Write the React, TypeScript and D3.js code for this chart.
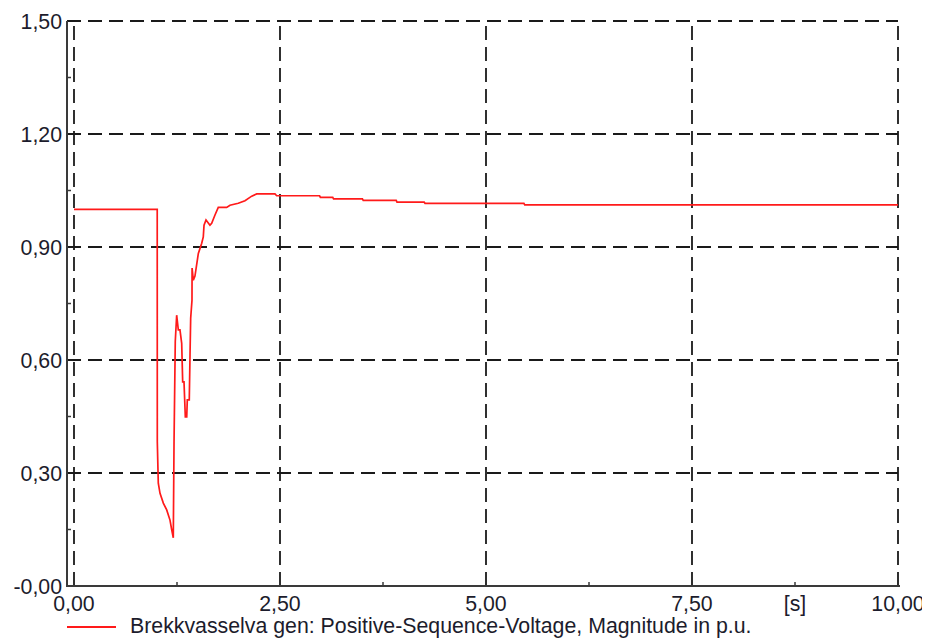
import React from "react";
import * as d3 from "d3";

const times = [
  0, 1.01, 1.011, 1.023, 1.044, 1.084, 1.125, 1.165, 1.186, 1.205, 1.214, 1.229, 1.246, 1.266, 1.286,
  1.307, 1.319, 1.335, 1.351, 1.368, 1.375, 1.399, 1.408, 1.416, 1.432, 1.433, 1.448, 1.468, 1.509,
  1.55, 1.569, 1.578, 1.602, 1.65, 1.671, 1.711, 1.751, 1.853, 1.893, 1.994, 2.075, 2.157, 2.217,
  2.439, 2.46, 2.98, 2.99, 3.14, 3.15, 3.5, 3.51, 3.91, 3.92, 4.25, 4.26, 5.46, 5.47, 10,
];
const values = [
  1.0, 1.0, 0.383, 0.273, 0.246, 0.22, 0.202, 0.175, 0.149, 0.128, 0.383, 0.649, 0.719, 0.68, 0.68,
  0.644, 0.542, 0.542, 0.449, 0.449, 0.494, 0.494, 0.613, 0.711, 0.759, 0.844, 0.812, 0.823, 0.883,
  0.91, 0.927, 0.958, 0.972, 0.958, 0.963, 0.985, 1.005, 1.005, 1.011, 1.016, 1.023, 1.035, 1.041,
  1.041, 1.036, 1.036, 1.032, 1.032, 1.028, 1.028, 1.024, 1.024, 1.019, 1.019, 1.016, 1.016, 1.012, 1.012,
];
const yTicks = [0, 0.3, 0.6, 0.9, 1.2, 1.5];
const yTickLabels = ["-0,00", "0,30", "0,60", "0,90", "1,20", "1,50"];
const xTicks = [0, 2.5, 5, 7.5, 10];
const xTickLabels = ["0,00", "2,50", "5,00", "7,50", "10,00"];
const xUnit = "[s]";
const legendLabel = "Brekkvasselva gen: Positive-Sequence-Voltage, Magnitude in p.u.";

export default function App() {
  const W = 929, H = 641;
  const axisX = 67;
  const x = d3.scaleLinear().domain([0, 10]).range([74, 898]);
  const y = d3.scaleLinear().domain([0, 1.5]).range([586, 21]);
  const line = d3
    .line<number>()
    .x((_, i) => x(times[i]))
    .y((d) => y(d));
  const pathD = line(values) || "";
  const font = "'Liberation Sans', Arial, sans-serif";
  const fs = 21.3;
  const gridColor = "#1a1a1a";
  const axisColor = "#3a3a3a";
  const textColor = "#1c1c2c";
  const yMinor = yTicks.slice(0, -1).map((t, i) => (t + yTicks[i + 1]) / 2);
  const xMinor = xTicks.slice(0, -1).map((t, i) => (t + xTicks[i + 1]) / 2);

  return (
    <svg
      width={W}
      height={H}
      style={{ position: "absolute", left: 0, top: 0, background: "#fff" }}
      fontFamily={font}
    >
      <defs>
        <clipPath id="clipAll">
          <rect x={0} y={0} width={922} height={H} />
        </clipPath>
      </defs>
      <rect x={0} y={0} width={W} height={H} fill="#fff" />
      <g clipPath="url(#clipAll)">
        {yTicks.map((t) => (
          <line
            key={"hg" + t}
            x1={axisX}
            x2={x(10)}
            y1={y(t)}
            y2={y(t)}
            stroke={gridColor}
            strokeWidth={1.8}
            strokeDasharray="14,7"
          />
        ))}
        {xTicks.map((t) => (
          <line
            key={"vg" + t}
            x1={x(t)}
            x2={x(t)}
            y1={y(0)}
            y2={y(1.5)}
            stroke={gridColor}
            strokeWidth={1.8}
            strokeDasharray="14,7"
          />
        ))}
        <line x1={axisX} x2={axisX} y1={y(1.5)} y2={y(0) + 1} stroke={axisColor} strokeWidth={2} />
        <line x1={axisX} x2={x(10) + 2} y1={y(0)} y2={y(0)} stroke={axisColor} strokeWidth={2} />
        {yMinor.map((t) => (
          <line key={"ym" + t} x1={axisX} x2={axisX + 4} y1={y(t)} y2={y(t)} stroke={axisColor} strokeWidth={1.5} />
        ))}
        {xMinor.map((t) => (
          <line key={"xm" + t} x1={x(t)} x2={x(t)} y1={y(0)} y2={y(0) - 4} stroke={axisColor} strokeWidth={1.5} />
        ))}
        <path d={pathD} fill="none" stroke="#ff1a1a" strokeWidth={1.7} strokeLinejoin="miter" />
        {yTicks.map((t, i) => (
          <text key={"yl" + t} x={62} y={y(t) + 7.5} textAnchor="end" fontSize={fs} fill={textColor}>
            {yTickLabels[i]}
          </text>
        ))}
        {xTicks.map((t, i) => (
          <text key={"xl" + t} x={x(t)} y={611} textAnchor="middle" fontSize={fs} fill={textColor}>
            {xTickLabels[i]}
          </text>
        ))}
        <text x={x(8.75)} y={611} textAnchor="middle" fontSize={fs} fill={textColor}>
          {xUnit}
        </text>
        <line x1={67} x2={116} y1={627} y2={627} stroke="#ff1a1a" strokeWidth={1.8} />
        <text x={130} y={633} fontSize={fs} fill={textColor}>
          {legendLabel}
        </text>
      </g>
    </svg>
  );
}
